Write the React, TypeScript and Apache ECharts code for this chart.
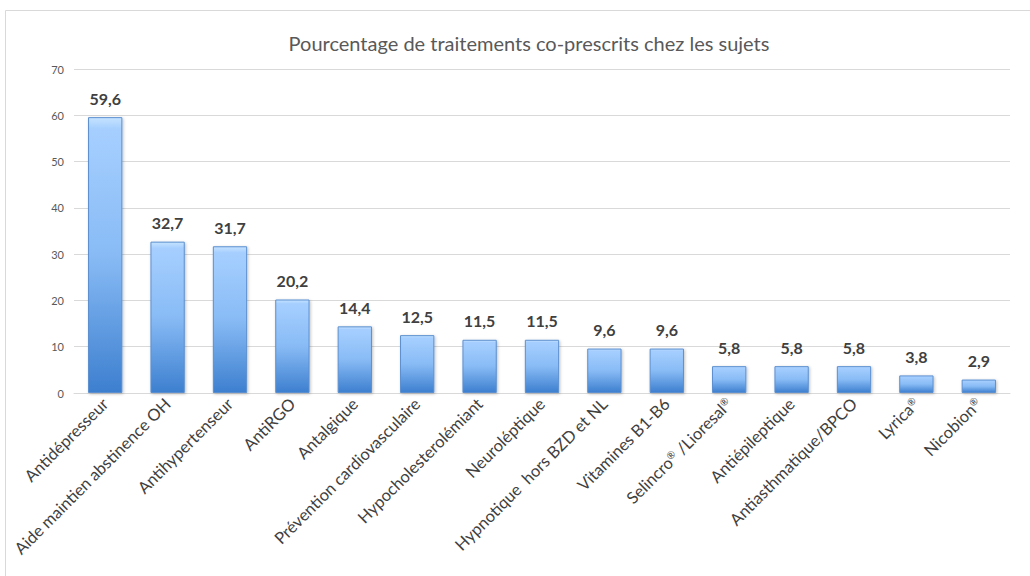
import React, { useEffect, useRef } from "react";
import * as echarts from "echarts";

const categories = [
  "Antidépresseur",
  "Aide maintien abstinence OH",
  "Antihypertenseur",
  "AntiRGO",
  "Antalgique",
  "Prévention cardiovasculaire",
  "Hypocholesterolémiant",
  "Neuroléptique",
  "Hypnotique  hors BZD et NL",
  "Vitamines B1-B6",
  "Selincro® /Lioresal®",
  "Antiépileptique",
  "Antiasthmatique/BPCO",
  "Lyrica®",
  "Nicobion®",
];
const values = [59.6, 32.7, 31.7, 20.2, 14.4, 12.5, 11.5, 11.5, 9.6, 9.6, 5.8, 5.8, 5.8, 3.8, 2.9];
const titleText = "Pourcentage de traitements co-prescrits chez les sujets";

const FONT = "Lato";

export default function App() {
  const ref = useRef<HTMLDivElement>(null);
  useEffect(() => {
    const chart = echarts.init(ref.current!, null, { renderer: "svg" });
    chart.setOption({
      animation: false,
      backgroundColor: "#ffffff",
      textStyle: { fontFamily: FONT },
      title: {
        text: titleText,
        left: 524,
        textAlign: "center",
        top: 28,
        textStyle: { fontSize: 20, fontWeight: "normal", color: "#595959", fontFamily: FONT },
      },
      graphic: [
        {
          type: "rect",
          shape: { x: 5.5, y: 10.5, width: 1040, height: 600 },
          style: { fill: "none", stroke: "#d9d9d9", lineWidth: 1 },
          silent: true,
        },
      ],
      grid: { left: 74, right: 20, top: 69, bottom: 183, containLabel: false },
      xAxis: {
        type: "category",
        data: categories,
        axisTick: { show: false },
        axisLine: { show: true, lineStyle: { color: "#d9d9d9" } },
        axisLabel: {
          rotate: 45,
          interval: 0,
          fontSize: 16.5,
          color: "#404040",
          margin: 8,
          fontFamily: FONT,
          formatter: (v: string) =>
            v
              .split("®")
              .map((s, i, arr) => (i < arr.length - 1 ? `{t|${s}}{sup|®}` : s ? `{t|${s}}` : ""))
              .join(""),
          rich: {
            t: { fontSize: 16.5, color: "#404040", fontFamily: FONT, verticalAlign: "bottom" },
            sup: { fontSize: 10, color: "#404040", fontFamily: FONT, verticalAlign: "top" },
          },
        },
      },
      yAxis: {
        type: "value",
        min: 0,
        max: 70,
        interval: 10,
        axisLine: { show: false },
        axisTick: { show: false },
        splitLine: { lineStyle: { color: "#d9d9d9" } },
        axisLabel: { fontSize: 11, color: "#595959", margin: 10, fontFamily: FONT },
      },
      series: [
        {
          type: "bar",
          data: values,
          barWidth: "55%",
          itemStyle: {
            borderColor: "#5b8fd0",
            borderWidth: 1,
            color: new echarts.graphic.LinearGradient(0, 0, 0, 1, [
              { offset: 0, color: "#c6e3ff" },
              { offset: 0.04, color: "#a6cfff" },
              { offset: 0.5, color: "#88bbf5" },
              { offset: 1, color: "#3d7fcf" },
            ]),
            shadowColor: "rgba(0,0,0,0.25)",
            shadowBlur: 3,
            shadowOffsetX: 1,
            shadowOffsetY: 1,
          },
          label: {
            show: true,
            position: "top",
            distance: 11,
            fontSize: 16,
            fontWeight: "bold",
            color: "#404040",
            fontFamily: FONT,
            formatter: (p: any) => String(p.value.toFixed(1)).replace(".", ","),
          },
        },
      ],
    });
    return () => chart.dispose();
  }, []);
  return (
    <div
      ref={ref}
      style={{ position: "absolute", left: 0, top: 0, width: 1030, height: 576 }}
    />
  );
}
